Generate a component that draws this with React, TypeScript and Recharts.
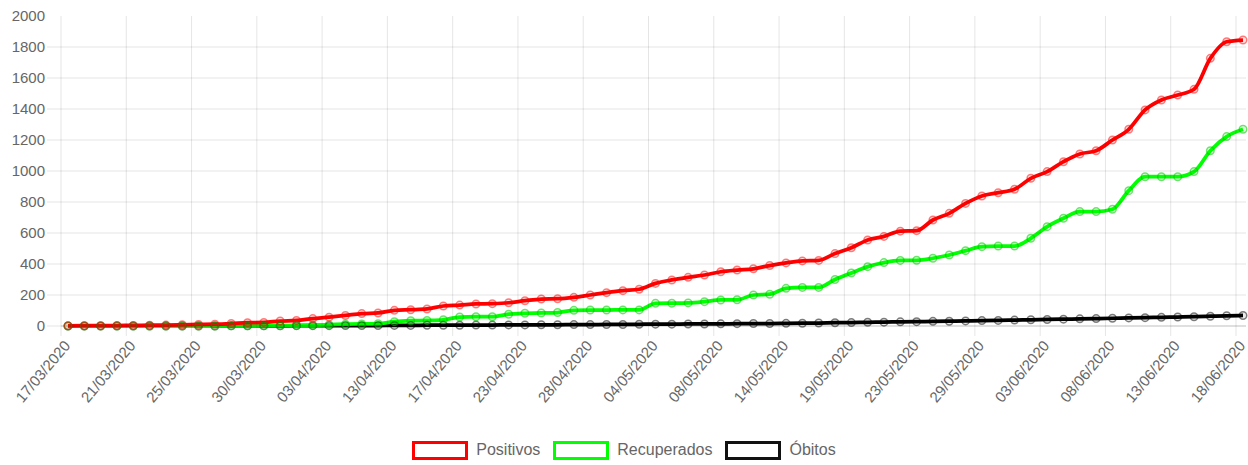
import { Line, LineChart, XAxis, YAxis } from "recharts";

const dates = [
  "17/03/2020", "18/03/2020", "19/03/2020", "20/03/2020", "21/03/2020", "22/03/2020", "23/03/2020", "24/03/2020",
  "25/03/2020", "26/03/2020", "27/03/2020", "28/03/2020", "30/03/2020", "31/03/2020", "01/04/2020", "02/04/2020",
  "03/04/2020", "05/04/2020", "07/04/2020", "10/04/2020", "13/04/2020", "14/04/2020", "15/04/2020", "16/04/2020",
  "17/04/2020", "19/04/2020", "20/04/2020", "22/04/2020", "23/04/2020", "24/04/2020", "25/04/2020", "27/04/2020",
  "28/04/2020", "29/04/2020", "30/04/2020", "02/05/2020", "04/05/2020", "05/05/2020", "06/05/2020", "07/05/2020",
  "08/05/2020", "11/05/2020", "12/05/2020", "13/05/2020", "14/05/2020", "15/05/2020", "16/05/2020", "18/05/2020",
  "19/05/2020", "20/05/2020", "21/05/2020", "22/05/2020", "23/05/2020", "25/05/2020", "26/05/2020", "28/05/2020",
  "29/05/2020", "30/05/2020", "01/06/2020", "02/06/2020", "03/06/2020", "04/06/2020", "05/06/2020", "07/06/2020",
  "08/06/2020", "09/06/2020", "10/06/2020", "12/06/2020", "13/06/2020", "15/06/2020", "16/06/2020", "17/06/2020",
  "18/06/2020",
];

const positivos = [
  1, 2, 2, 3, 4, 5, 6, 8, 10, 12, 16, 21, 23,
  32, 36, 48, 57, 68, 80, 84, 101, 105, 110, 129, 135,
  142, 144, 150, 163, 174, 176, 185, 200, 215, 228, 237, 275,
  297, 314, 329, 350, 361, 369, 390, 407, 420, 423, 467, 505,
  555, 578, 612, 615, 684, 727, 791, 839, 860, 882, 953, 996,
  1060, 1110, 1131, 1200, 1269, 1394, 1458, 1490, 1527, 1727, 1834, 1845,
];

const recuperados = [
  0, 0, 0, 0, 0, 0, 0, 0, 0, 0, 1, 1, 2,
  2, 3, 5, 8, 12, 13, 15, 28, 34, 36, 40, 58,
  60, 60, 76, 82, 84, 87, 101, 103, 103, 104, 104, 146,
  147, 149, 157, 168, 169, 200, 205, 243, 249, 249, 300, 342,
  383, 409, 423, 424, 437, 458, 486, 512, 516, 516, 566, 641,
  695, 738, 738, 753, 873, 963, 963, 963, 996, 1131, 1222, 1269,
];

const obitos = [
  0, 0, 0, 0, 0, 0, 0, 0, 0, 0, 1, 1, 1,
  1, 2, 2, 2, 3, 3, 3, 4, 4, 5, 5, 5,
  6, 6, 7, 7, 8, 8, 9, 9, 10, 10, 11, 12,
  12, 13, 13, 14, 15, 16, 16, 17, 18, 19, 21, 22,
  24, 25, 27, 28, 30, 31, 33, 35, 36, 38, 40, 42,
  44, 46, 48, 50, 52, 54, 56, 58, 60, 63, 66, 68,
];

const yTicks = [0, 200, 400, 600, 800, 1000, 1200, 1400, 1600, 1800, 2000];

const series = [
  { key: "obitos", name: "Óbitos", color: "#000000", dotStroke: "rgba(0,0,0,0.5)", dotFill: "rgba(0,0,0,0.08)" },
  { key: "recuperados", name: "Recuperados", color: "#00ff00", dotStroke: "rgba(0,200,0,0.55)", dotFill: "rgba(0,255,0,0.1)" },
  { key: "positivos", name: "Positivos", color: "#ff0000", dotStroke: "rgba(255,0,0,0.5)", dotFill: "rgba(255,0,0,0.1)" },
];

const legendItems = [
  { name: "Positivos", color: "#ff0000" },
  { name: "Recuperados", color: "#00ff00" },
  { name: "Óbitos", color: "#111111" },
];

const data = dates.map((d, i) => ({
  date: d,
  positivos: positivos[i],
  recuperados: recuperados[i],
  obitos: obitos[i],
}));

const FONT = '"Liberation Sans", Arial, Helvetica, sans-serif';
const GRID = "rgba(0,0,0,0.1)";
const GRID_SHIFT = 7; // gridlines sit a little left of the labelled point
const PLOT_H = 310;
const PLOT_W = 1185;

const XTick = ({ x, y, payload }: any) => {
  const tx = x + 3;
  const ty = y + 20;
  return (
    <g>
      <line x1={x - GRID_SHIFT} x2={x - GRID_SHIFT} y1={y - PLOT_H} y2={y + 10} stroke={GRID} />
      <text
        x={tx}
        y={ty}
        transform={`rotate(-50, ${tx}, ${ty})`}
        textAnchor="end"
        fill="#666"
        fontSize={15}
        fontFamily={FONT}
      >
        {payload.value}
      </text>
    </g>
  );
};

// horizontal gridlines come from the y ticks; none on the top tick
const YTick = ({ x, y, payload }: any) => (
  <g>
    {payload.value > 0 && payload.value < 2000 && (
      <line x1={x - 14} x2={x + PLOT_W} y1={y} y2={y} stroke={GRID} />
    )}
    {payload.value === 0 && <line x1={x - 14} x2={x} y1={y} y2={y} stroke={GRID} />}
    <text x={x - 16} y={y} dy="0.35em" textAnchor="end" fill="#666" fontSize={15} fontFamily={FONT}>
      {payload.value}
    </text>
  </g>
);

export default function App() {
  return (
    <div style={{ position: "absolute", left: 0, top: 0, width: 1248, height: 465, background: "#fff" }}>
      <LineChart width={1248} height={465} data={data} margin={{ top: 16, right: 2, left: 0, bottom: 0 }}>
        <XAxis
          dataKey="date"
          interval={3}
          height={139}
          padding={{ left: 7, right: 3 }}
          tickLine={false}
          tickSize={0}
          tickMargin={0}
          axisLine={{ stroke: "rgba(0,0,0,0.25)" }}
          tick={<XTick />}
        />
        <YAxis
          width={61}
          domain={[0, 2000]}
          ticks={yTicks}
          interval={0}
          tickLine={false}
          axisLine={false}
          tickSize={0}
          tickMargin={0}
          tick={<YTick />}
        />
        {series.map((s) => (
          <Line
            key={s.key}
            type="monotone"
            dataKey={s.key}
            name={s.name}
            stroke={s.color}
            strokeWidth={3.75}
            dot={{ r: 3.75, stroke: s.dotStroke, strokeWidth: 1.5, fill: s.dotFill }}
            activeDot={false}
            isAnimationActive={false}
          />
        ))}
      </LineChart>
      <div
        style={{
          position: "absolute",
          left: 0,
          top: 440,
          width: 1248,
          height: 20,
          display: "flex",
          justifyContent: "center",
          alignItems: "center",
          fontFamily: FONT,
          fontSize: 16,
          color: "#666",
        }}
      >
        {legendItems.map((it, i) => (
          <div key={it.name} style={{ display: "flex", alignItems: "center", marginLeft: i === 0 ? 0 : 13 }}>
            <div
              style={{
                width: 50,
                height: 13,
                border: `3.5px solid ${it.color}`,
                background: "#fff",
                marginRight: 8,
              }}
            />
            <span>{it.name}</span>
          </div>
        ))}
      </div>
    </div>
  );
}
